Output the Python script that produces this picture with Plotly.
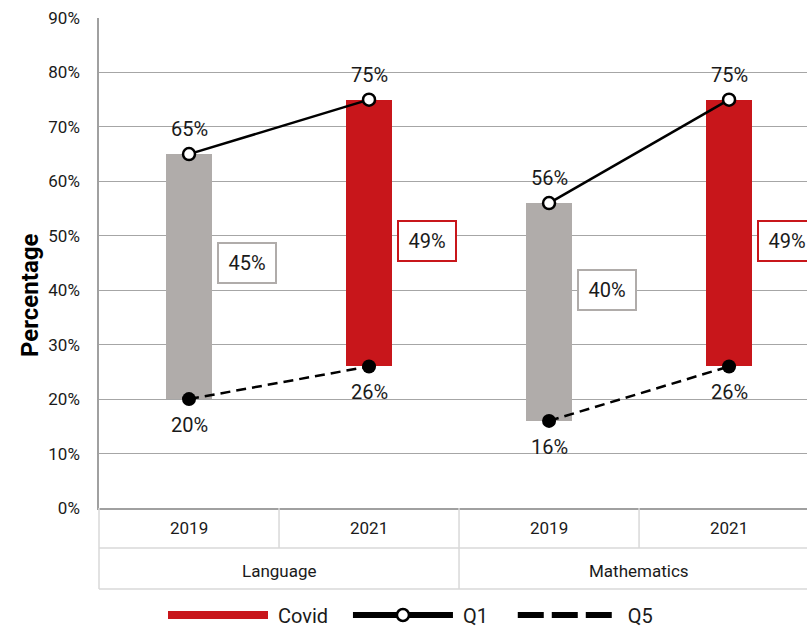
import plotly.graph_objects as go

subjects = ["Language", "Language", "Mathematics", "Mathematics"]
years = ["2019", "2021", "2019", "2021"]
q1 = [65, 75, 56, 75]
q5 = [20, 26, 16, 26]
gap = [45, 49, 40, 49]
yticks = [0, 10, 20, 30, 40, 50, 60, 70, 80, 90]

RED = "#c8161b"
GRAY = "#b0acaa"
FONT = "Roboto, Liberation Sans, sans-serif"
TXT = "#1a1a1a"
NB = "&nbsp;"

cats = [f"{s} {y}" for s, y in zip(subjects, years)]
bar_colors = [GRAY if y == "2019" else RED for y in years]

fig = go.Figure()
fig.add_trace(go.Bar(
    x=cats, y=[a - b for a, b in zip(q1, q5)], base=q5,
    marker=dict(color=bar_colors, line=dict(width=0)),
    width=0.256, showlegend=False, hoverinfo="skip"))

for subj in ["Language", "Mathematics"]:
    idx = [i for i, s in enumerate(subjects) if s == subj]
    fig.add_trace(go.Scatter(
        x=[cats[i] for i in idx], y=[q1[i] for i in idx],
        mode="lines+markers",
        line=dict(color="black", width=2.5),
        marker=dict(symbol="circle", size=12, color="white", line=dict(color="black", width=2.5)),
        showlegend=False, cliponaxis=False))
    fig.add_trace(go.Scatter(
        x=[cats[i] for i in idx], y=[q5[i] for i in idx],
        mode="lines+markers",
        line=dict(color="black", width=2.5, dash="10px,6px"),
        marker=dict(symbol="circle", size=14, color="black"),
        showlegend=False, cliponaxis=False))

# legend-only traces
fig.add_trace(go.Scatter(x=[None], y=[None], mode="lines", name=NB + "Covid" + NB * 3,
                         line=dict(color=RED, width=8)))
fig.add_trace(go.Scatter(x=[None], y=[None], mode="lines+markers", name=NB + "Q1" + NB * 4,
                         line=dict(color="black", width=6),
                         marker=dict(size=12, color="white", line=dict(color="black", width=2.5))))
fig.add_trace(go.Scatter(x=[None], y=[None], mode="lines", name=NB + "Q5",
                         line=dict(color="black", width=6, dash="26px,8px")))

annotations = []
lab_font = dict(size=20, color=TXT, family=FONT)
for c, v in zip(cats, q1):
    annotations.append(dict(x=c, y=v, xref="x", yref="y", text=f"{v}%", showarrow=False,
                            yshift=25, font=lab_font))
for c, v in zip(cats, q5):
    annotations.append(dict(x=c, y=v, xref="x", yref="y", text=f"{v}%", showarrow=False,
                            yshift=-26, font=lab_font))
for c, g, y in zip(cats, gap, years):
    col = GRAY if y == "2019" else RED
    annotations.append(dict(x=c, y=g, xref="x", yref="y", text=f"{g}%", showarrow=False,
                            xshift=58, font=lab_font, width=44, height=26,
                            bordercolor=col, borderwidth=2, borderpad=6, bgcolor="white"))

PX = 490.0
def py(pix):
    return -(pix - 508) / PX

for c, y in zip(cats, years):
    annotations.append(dict(x=c, y=py(528), xref="x", yref="paper", text=y, showarrow=False,
                            font=dict(size=17, color=TXT, family=FONT), yanchor="middle"))
for k, subj in enumerate(["Language", "Mathematics"]):
    annotations.append(dict(x=2 * k + 0.5, y=py(571), xref="x", yref="paper", text=subj,
                            showarrow=False, font=dict(size=17, color=TXT, family=FONT),
                            yanchor="middle"))
annotations.append(dict(x=-(99 - 30) / 708, y=py(296), xref="paper", yref="paper",
                        xanchor="center", yanchor="middle",
                        text="<b>Percentage</b>", textangle=-90, showarrow=False,
                        font=dict(size=24, color="black", family=FONT)))

LINE = "#d9d9d9"
shapes = [
    dict(type="line", xref="paper", yref="paper", x0=0, x1=1, y0=py(548), y1=py(548), line=dict(color=LINE, width=1.5)),
    dict(type="line", xref="paper", yref="paper", x0=0, x1=1, y0=py(589), y1=py(589), line=dict(color=LINE, width=1.5)),
    dict(type="line", xref="paper", yref="paper", x0=0, x1=0, y0=0, y1=py(589), line=dict(color=LINE, width=1.5)),
    dict(type="line", xref="x", yref="paper", x0=0.5, x1=0.5, y0=0, y1=py(548), line=dict(color=LINE, width=1.5)),
    dict(type="line", xref="x", yref="paper", x0=1.5, x1=1.5, y0=0, y1=py(589), line=dict(color=LINE, width=1.5)),
    dict(type="line", xref="x", yref="paper", x0=2.5, x1=2.5, y0=0, y1=py(548), line=dict(color=LINE, width=1.5)),
]

fig.update_layout(
    width=807, height=629,
    margin=dict(l=99, r=0, t=18, b=121),
    paper_bgcolor="white", plot_bgcolor="white",
    font=dict(family=FONT, color=TXT),
    xaxis=dict(type="category", categoryorder="array", categoryarray=cats,
               range=[-0.5, 3.433], showticklabels=False, showgrid=False,
               zeroline=False, showline=True, linecolor="#a0a0a0", linewidth=1.5, ticks=""),
    yaxis=dict(range=[0, 90], tickvals=yticks, ticktext=[f"{v}%" for v in yticks],
               showgrid=True, gridcolor="#a6a6a6", gridwidth=1.2, zeroline=False,
               showline=True, linecolor="#a0a0a0", linewidth=1.5,
               ticks="", ticklabelstandoff=14,
               tickfont=dict(size=17, color=TXT, family=FONT)),
    legend=dict(orientation="h", xref="paper", x=(163 - 99) / 708, xanchor="left",
                yref="container", y=1 - 615 / 629, yanchor="middle",
                itemwidth=100, font=dict(size=20, color=TXT, family=FONT),
                bgcolor="rgba(0,0,0,0)"),
    annotations=annotations, shapes=shapes,
    bargap=0,
)

fig.write_html("out.html")
